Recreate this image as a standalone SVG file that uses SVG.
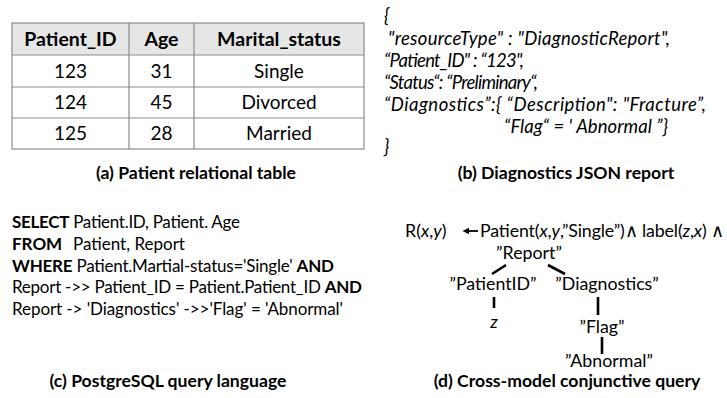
<svg xmlns="http://www.w3.org/2000/svg" width="727" height="398" viewBox="0 0 727 398">
<style>
text{font-family:Lato,"Open Sans","Liberation Sans",sans-serif;fill:#000;}
.hd{font-size:19.5px;font-weight:bold;text-anchor:middle;}
.cell{font-size:19px;text-anchor:middle;}
.cap{font-size:17.6px;font-weight:bold;text-anchor:middle;}
.js{font-family:Lato,"Liberation Sans",sans-serif;font-size:18.5px;font-style:italic;}
.sql{font-size:17px;}
.q{font-size:17.8px;}
.b{font-weight:bold;}
.i{font-style:italic;}
.grid{stroke:#8c8c8c;stroke-width:1.2;fill:none;}
.edge{stroke:#000;stroke-width:2.6;fill:none;}
</style>
<defs>
<marker id="ah" markerWidth="7" markerHeight="7" refX="0" refY="3.2" orient="auto" markerUnits="userSpaceOnUse">
<path d="M0,0 L6.5,3.2 L0,6.4 Z" fill="#000"/>
</marker>
</defs>
<rect width="727" height="398" fill="#fff"/>

<g id="table-a">
<rect x="12" y="23" width="352" height="32" fill="#e7e6e6"/>
<rect class="grid" x="12" y="23" width="352" height="126"/>
<path class="grid" d="M12,55H364M12,87H364M12,118H364M129,23V149M194,23V149"/>
<text class="hd" x="70.5" y="46">Patient_ID</text>
<text class="hd" x="161.5" y="46">Age</text>
<text class="hd" x="279" y="46">Marital_status</text>
<text class="cell" x="70.5" y="78">123</text>
<text class="cell" x="161.5" y="78">31</text>
<text class="cell" x="279" y="78">Single</text>
<text class="cell" x="70.5" y="109">124</text>
<text class="cell" x="161.5" y="109">45</text>
<text class="cell" x="279" y="109">Divorced</text>
<text class="cell" x="70.5" y="140">125</text>
<text class="cell" x="161.5" y="140">28</text>
<text class="cell" x="279" y="140">Married</text>
<text class="cap" x="196" y="179">(a) Patient relational table</text>
</g>

<g id="json-b">
<text class="js" x="384" y="22">{</text>
<text class="js" x="388" y="45" textLength="282" lengthAdjust="spacing">"resourceType" : "DiagnosticReport",</text>
<text class="js" x="384" y="67" textLength="140" lengthAdjust="spacing">“Patient_ID" : “123",</text>
<text class="js" x="384" y="89" textLength="154" lengthAdjust="spacing">“Status“: “Preliminary“,</text>
<text class="js" x="384" y="111" textLength="322" lengthAdjust="spacing">“Diagnostics”:{ “Description": "Fracture”,</text>
<text class="js" x="504" y="133" textLength="164" lengthAdjust="spacing">“Flag“ = ' Abnormal ”}</text>
<text class="js" x="384" y="153">}</text>
<text class="cap" x="566" y="179">(b) Diagnostics JSON report</text>
</g>

<g id="sql-c">
<text class="sql" x="12" y="228" textLength="228" lengthAdjust="spacing"><tspan class="b">SELECT</tspan> Patient.ID, Patient. Age</text>
<text class="sql" x="12" y="250"><tspan class="b">FROM</tspan><tspan x="73">Patient, Report</tspan></text>
<text class="sql" x="12" y="272" textLength="322" lengthAdjust="spacing"><tspan class="b">WHERE</tspan> Patient.Martial-status='Single' <tspan class="b">AND</tspan></text>
<text class="sql" x="12" y="293" textLength="350" lengthAdjust="spacing">Report -&gt;&gt; Patient_ID = Patient.Patient_ID <tspan class="b">AND</tspan></text>
<text class="sql" x="12" y="315" textLength="331" lengthAdjust="spacing">Report -&gt; 'Diagnostics' -&gt;&gt;'Flag' = 'Abnormal'</text>
<text class="cap" x="168" y="387">(c) PostgreSQL query language</text>
</g>

<g id="query-d">
<g id="head">
<text class="q" x="405" y="237">R(<tspan class="i">x</tspan>,<tspan class="i">y</tspan>)</text>
</g>
<g id="body">
<text class="q" x="480" y="237" textLength="244" lengthAdjust="spacing">Patient(<tspan class="i">x</tspan>,<tspan class="i">y</tspan>,”Single”)∧ label(<tspan class="i">z</tspan>,<tspan class="i">x</tspan>) ∧</text>
</g>
<g id="n-report"><text class="q" x="529" y="259" text-anchor="middle">”Report”</text></g>
<g id="n-patientid"><text class="q" x="493" y="290" text-anchor="middle">”PatientID”</text></g>
<g id="n-diagnostics"><text class="q" x="607" y="290" text-anchor="middle">”Diagnostics”</text></g>
<g id="n-z"><text class="q i" x="494" y="328" text-anchor="middle">z</text></g>
<g id="n-flag"><text class="q" x="602" y="333" text-anchor="middle">”Flag”</text></g>
<g id="n-abnormal"><text class="q" x="609" y="367" text-anchor="middle">”Abnormal”</text></g>
<text class="cap" x="567" y="387">(d) Cross-model conjunctive query</text>
</g>

<g id="connectors">
<path d="M478,231H469" stroke="#000" stroke-width="1.8" marker-end="url(#ah)"/>
<path class="edge" d="M492,274L506,265"/>
<path class="edge" d="M548,265L565,274"/>
<path class="edge" d="M494,297V308"/>
<path class="edge" d="M598,297V315"/>
<path class="edge" d="M602,337V354"/>
</g>
</svg>
